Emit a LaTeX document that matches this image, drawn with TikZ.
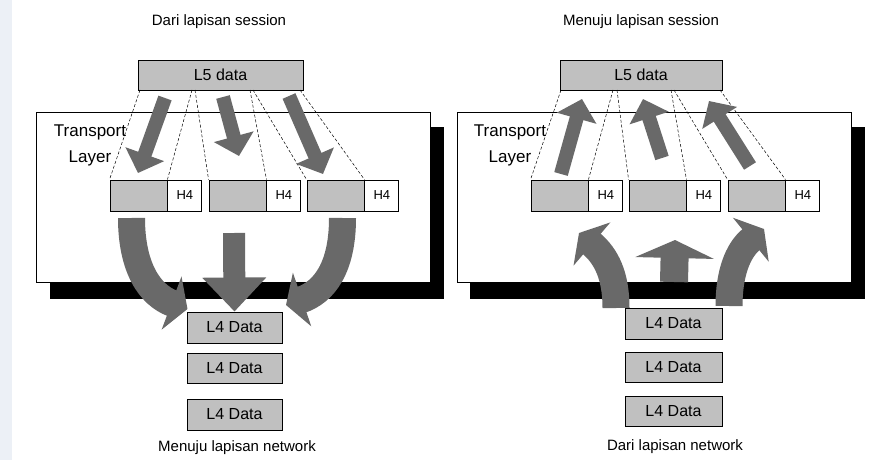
\documentclass[tikz,border=0pt]{standalone}
\usepackage{fontspec}
\setmainfont{Liberation Sans}
\usepackage{tikz}
\usetikzlibrary{arrows.meta,positioning}
\definecolor{boxgray}{RGB}{192,192,192}
\definecolor{arrowgray}{RGB}{105,105,105}
\definecolor{edgeblue}{RGB}{236,240,246}
\tikzset{
  databox/.style={draw,fill=boxgray,line width=0.9pt,inner sep=0pt,minimum height=31pt,font=\fontsize{16}{18}\selectfont},
  headbox/.style={draw,fill=white,line width=0.9pt,inner sep=0pt,minimum width=34pt,minimum height=31pt,font=\fontsize{13}{15}\selectfont},
  cutline/.style={densely dashed,line width=0.5pt},
  bigarrow/.style={arrowgray,line width=14pt,-{Triangle[width=40pt,length=20pt]}},
  bentarrow/.style={arrowgray,line width=27pt,-{Triangle[width=56pt,length=17pt]}},
  caption/.style={font=\fontsize{15}{17}\selectfont}
}
\begin{document}
\begin{tikzpicture}[x=1pt,y=-1pt]
\useasboundingbox (0,0) rectangle (878,460);
\fill[edgeblue] (0,0) rectangle (12,460);
% left side: from session down to network
\node[caption] (tsess) at (219,22) {Dari lapisan session};
\fill (50,127) rectangle (444,299);
\draw[fill=white,line width=0.9pt] (36,112) rectangle (430,282);
\node[font=\fontsize{17}{26}\selectfont,align=center] (tl) at (90,145) {Transport\\Layer};
\node[databox,minimum width=165pt,minimum height=30pt] (l5) at (220.5,75) {L5 data};
\node[databox,minimum width=57pt] (d1) at (138.5,195.5) {};
\node[headbox,right=0pt of d1] (h1) {H4};
\node[databox,minimum width=57pt] (d2) at (237.5,195.5) {};
\node[headbox,right=0pt of d2] (h2) {H4};
\node[databox,minimum width=57pt] (d3) at (335.5,195.5) {};
\node[headbox,right=0pt of d3] (h3) {H4};
\coordinate (u1) at (140,90);
\coordinate (u2) at (192,90);
\coordinate (u3) at (195,90);
\coordinate (u4) at (250,90);
\coordinate (u5) at (253,90);
\coordinate (u6) at (300,90);
\draw[cutline] (u1) -- (d1.north west);
\draw[cutline] (u2) -- (d1.north east);
\draw[cutline] (u3) -- (d2.north west);
\draw[cutline] (u4) -- (d2.north east);
\draw[cutline] (u5) -- (d3.north west);
\draw[cutline] (u6) -- (d3.north east);
\coordinate (a1) at (165,98);
\coordinate (a1t) at (138,173);
\coordinate (a2) at (223,97);
\coordinate (a2t) at (239,156);
\coordinate (a3) at (289,96);
\coordinate (a3t) at (323,174);
\draw[bigarrow] (a1) -- (a1t);
\draw[bigarrow] (a2) -- (a2t);
\draw[bigarrow] (a3) -- (a3t);
\node[databox,minimum width=95pt] (n1) at (234.5,327.5) {L4 Data};
\node[databox,minimum width=95pt,minimum height=30pt] (n2) at (234.5,368) {L4 Data};
\node[databox,minimum width=95pt] (n3) at (234.5,414.5) {L4 Data};
\node[caption] (bnet) at (237,448) {Menuju lapisan network};
\coordinate (c1) at (131.5,218);
\coordinate (c1t) at (187.5,309);
\coordinate (c3) at (342.5,218);
\coordinate (c3t) at (286,305);
\coordinate (c2) at (234,233);
\draw[bentarrow] (c1) .. controls (131.5,268) and (150,295) .. (c1t);
\draw[bentarrow] (c3) .. controls (342.5,268) and (324,292) .. (c3t);
\draw[arrowgray,line width=22pt,-{Triangle[width=62pt,length=34pt]}] (c2) -- (n1.north);
% right side: from network up to session
\node[caption] (rsess) at (641,22) {Menuju lapisan session};
\fill (470,127) rectangle (865,299);
\draw[fill=white,line width=0.9pt] (457,112) rectangle (851,282);
\node[font=\fontsize{17}{26}\selectfont,align=center] (rl) at (510,145) {Transport\\Layer};
\node[databox,minimum width=162pt,minimum height=30pt] (r5) at (641,75) {L5 data};
\node[databox,minimum width=57pt] (e1) at (559.5,195.5) {};
\node[headbox,right=0pt of e1] (g1) {H4};
\node[databox,minimum width=57pt] (e2) at (657.5,195.5) {};
\node[headbox,right=0pt of e2] (g2) {H4};
\node[databox,minimum width=57pt] (e3) at (756.5,195.5) {};
\node[headbox,right=0pt of e3] (g3) {H4};
\coordinate (v1) at (561,90);
\coordinate (v2) at (613,90);
\coordinate (v3) at (617,90);
\coordinate (v4) at (671,90);
\coordinate (v5) at (674,90);
\coordinate (v6) at (720,90);
\draw[cutline] (v1) -- (e1.north west);
\draw[cutline] (v2) -- (e1.north east);
\draw[cutline] (v3) -- (e2.north west);
\draw[cutline] (v4) -- (e2.north east);
\draw[cutline] (v5) -- (e3.north west);
\draw[cutline] (v6) -- (e3.north east);
\coordinate (b1) at (561,174);
\coordinate (b1t) at (582,99);
\coordinate (b2) at (662,158);
\coordinate (b2t) at (643,99);
\coordinate (b3) at (750,166);
\coordinate (b3t) at (709,101);
\draw[bigarrow] (b1) -- (b1t);
\draw[bigarrow] (b2) -- (b2t);
\draw[bigarrow] (b3) -- (b3t);
\node[databox,minimum width=97pt] (m1) at (673.5,323.5) {L4 Data};
\node[databox,minimum width=97pt,minimum height=30pt] (m2) at (673.5,367) {L4 Data};
\node[databox,minimum width=97pt,minimum height=30pt] (m3) at (673.5,411) {L4 Data};
\node[caption] (rnet) at (675,447) {Dari lapisan network};
\coordinate (k1) at (616,308);
\coordinate (k1t) at (579,233);
\coordinate (k3) at (729,306);
\coordinate (k3t) at (764,229);
\coordinate (k2) at (674,282);
\coordinate (k2t) at (675,240);
\draw[bentarrow] (k1) .. controls (616,275) and (606,256) .. (k1t);
\draw[bentarrow] (k3) .. controls (729,275) and (737,251) .. (k3t);
\draw[arrowgray,line width=28pt,-{Triangle[width=78pt,length=18pt]}] (k2) -- (k2t);
\end{tikzpicture}
\end{document}
